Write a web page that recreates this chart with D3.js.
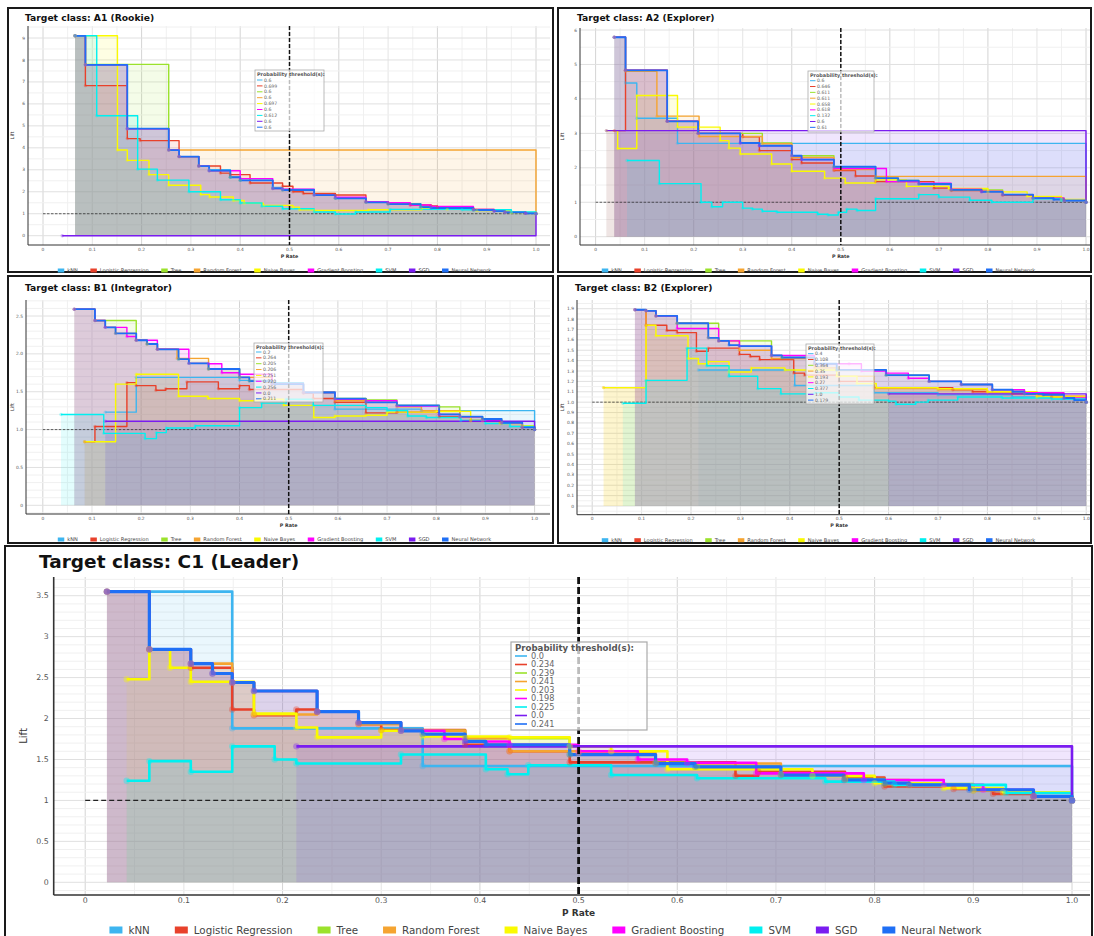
<!DOCTYPE html>
<html>
<head>
<meta charset="utf-8">
<script src="https://cdn.jsdelivr.net/npm/d3@7"></script>
<style>
  body { margin: 0; background: #fff; }
  svg { display: block; font-family: "DejaVu Sans", "Open Sans", sans-serif; }
</style>
</head>
<body>
<svg id="chart" width="1094" height="936"></svg>
<script>
// ---------- shared labels ----------
const modelNames = ["kNN", "Logistic Regression", "Tree", "Random Forest", "Naive Bayes",
  "Gradient Boosting", "SVM", "SGD", "Neural Network"];
const xTickValues = [0, 0.1, 0.2, 0.3, 0.4, 0.5, 0.6, 0.7, 0.8, 0.9, 1.0];
const xTickLabels = ["0", "0.1", "0.2", "0.3", "0.4", "0.5", "0.6", "0.7", "0.8", "0.9", "1.0"];
const xAxisTitle = "P Rate";
const yAxisTitle = "Lift";
const thresholdTitle = "Probability threshold(s):";

// ---------- A1 (Rookie) ----------
const a1Title = "Target class: A1 (Rookie)";
const a1YTicks = [0, 1, 2, 3, 4, 5, 6, 7, 8, 9];
const a1YTickLabels = ["0", "1", "2", "3", "4", "5", "6", "7", "8", "9"];
const a1Thresholds = ["0.6", "0.699", "0.6", "0.6", "0.697", "0.6", "0.612", "0.6", "0.6"];
// [P rate, lift] step points, one list per model (same order as modelNames)
const a1Curves = [
  [[0.065,9.1],[0.086,7.78],[0.171,4.87],[0.255,3.9],[0.276,3.6],[0.316,3.17],[0.337,3.0],[0.38,2.66],[0.40,2.52],[0.466,2.2],[0.486,2.1],[0.55,1.88],[0.593,1.72],[0.655,1.55],[0.70,1.46],[0.766,1.32],[0.787,1.28],[0.873,1.17],[0.915,1.12],[0.937,1.07],[0.979,1.02],[1.0,1.0]],
  [[0.065,9.1],[0.086,6.83],[0.171,4.42],[0.197,4.33],[0.276,3.6],[0.316,3.17],[0.36,2.85],[0.38,2.78],[0.42,2.4],[0.486,2.25],[0.507,2.0],[0.528,1.92],[0.593,1.85],[0.655,1.55],[0.70,1.47],[0.745,1.4],[0.787,1.36],[0.80,1.3],[0.873,1.2],[0.915,1.12],[0.937,1.06],[0.979,1.02],[1.0,1.0]],
  [[0.065,9.1],[0.086,7.8],[0.255,3.9],[0.276,3.6],[0.316,3.17],[0.337,2.96],[0.38,2.66],[0.40,2.52],[0.466,2.15],[0.486,2.08],[0.55,1.85],[0.593,1.70],[0.655,1.52],[0.70,1.44],[0.766,1.30],[0.873,1.17],[0.937,1.06],[1.0,1.0]],
  [[0.065,9.1],[0.086,7.78],[0.171,4.87],[0.255,3.9],[1.0,1.0]],
  [[0.065,9.1],[0.151,3.9],[0.171,3.43],[0.215,2.78],[0.255,2.3],[0.32,1.87],[0.338,1.76],[0.386,1.6],[0.408,1.48],[0.447,1.38],[0.507,1.3],[0.52,1.18],[0.55,1.15],[0.66,1.18],[0.768,1.22],[0.82,1.2],[0.88,1.14],[0.95,1.05],[1.0,1.0]],
  [[0.065,9.1],[0.086,7.78],[0.171,4.87],[0.255,3.9],[0.276,3.6],[0.316,3.17],[0.337,2.96],[0.40,2.6],[0.466,2.15],[0.486,2.12],[0.55,1.85],[0.593,1.75],[0.655,1.55],[0.70,1.5],[0.745,1.4],[0.787,1.33],[0.873,1.2],[0.915,1.12],[0.937,1.06],[0.979,1.02],[1.0,1.0]],
  [[0.065,9.1],[0.109,5.46],[0.192,3.03],[0.232,2.53],[0.296,2.0],[0.36,1.64],[0.40,1.49],[0.444,1.34],[0.486,1.23],[0.55,1.08],[0.593,0.99],[0.634,1.08],[0.704,1.2],[0.85,1.18],[0.95,1.08],[1.0,1.0]],
  [[0.039,0],[1.0,1.0]],
  [[0.065,9.1],[0.086,7.78],[0.171,4.87],[0.255,3.9],[0.276,3.6],[0.316,3.17],[0.337,2.96],[0.38,2.66],[0.40,2.52],[0.466,2.15],[0.486,2.08],[0.55,1.85],[0.593,1.70],[0.655,1.52],[0.70,1.44],[0.766,1.30],[0.787,1.26],[0.873,1.17],[0.915,1.12],[0.937,1.06],[0.979,1.02],[1.0,1.0]]
];

// ---------- A2 (Explorer) ----------
const a2Title = "Target class: A2 (Explorer)";
const a2YTicks = [0, 1, 2, 3, 4, 5, 6];
const a2YTickLabels = ["0", "1", "2", "3", "4", "5", "6"];
const a2Thresholds = ["0.6", "0.646", "0.611", "0.611", "0.658", "0.618", "0.132", "0.6", "0.61"];
const a2Curves = [
  [[0.038,5.79],[0.061,4.46],[0.084,3.44],[0.167,2.71],[1.0,1.0]],
  [[0.038,3.08],[0.061,4.83],[0.146,3.35],[0.209,3.0],[0.30,2.9],[0.334,2.5],[0.40,2.24],[0.42,2.14],[0.486,1.92],[0.53,1.76],[0.571,1.6],[0.69,1.41],[0.725,1.34],[0.787,1.32],[0.83,1.2],[0.892,1.12],[0.955,1.05],[1.0,1.0]],
  [[0.038,5.79],[0.061,4.83],[0.146,3.35],[0.209,3.0],[0.34,2.72],[0.40,2.35],[0.486,2.03],[0.571,1.70],[0.617,1.63],[0.659,1.53],[0.725,1.36],[0.83,1.22],[0.892,1.12],[0.955,1.05],[1.0,1.0]],
  [[0.038,5.79],[0.061,4.8],[0.125,3.5],[0.211,2.91],[0.34,2.7],[0.40,2.3],[0.486,1.95],[0.571,1.75],[1.0,1.0]],
  [[0.022,3.08],[0.045,2.56],[0.084,4.1],[0.167,3.18],[0.254,2.79],[0.272,2.57],[0.295,2.4],[0.359,2.11],[0.40,1.9],[0.467,1.70],[0.509,1.56],[0.571,1.65],[0.634,1.46],[0.72,1.4],[0.8,1.3],[0.88,1.17],[0.95,1.08],[1.0,1.0]],
  [[0.038,5.79],[0.061,4.83],[0.146,3.35],[0.209,3.0],[0.295,2.72],[0.334,2.64],[0.40,2.35],[0.42,2.24],[0.486,1.98],[0.593,1.6],[0.659,1.55],[0.725,1.38],[0.787,1.31],[0.83,1.22],[0.892,1.12],[0.955,1.05],[1.0,1.0]],
  [[0.064,2.21],[0.13,1.54],[0.215,1.0],[0.237,0.87],[0.259,1.0],[0.30,0.83],[0.32,0.8],[0.34,0.74],[0.37,0.71],[0.453,0.65],[0.474,0.63],[0.495,0.71],[0.512,0.8],[0.533,0.76],[0.571,1.10],[0.659,1.22],[0.70,1.15],[0.763,1.06],[0.808,1.0],[0.892,1.1],[0.95,1.05],[1.0,1.0]],
  [[0.022,3.08],[1.0,1.0]],
  [[0.038,5.79],[0.061,4.83],[0.146,3.35],[0.209,3.0],[0.295,2.72],[0.334,2.64],[0.40,2.35],[0.42,2.24],[0.486,2.03],[0.571,1.70],[0.617,1.63],[0.659,1.53],[0.725,1.36],[0.787,1.30],[0.83,1.22],[0.892,1.12],[0.934,1.08],[0.955,1.05],[1.0,1.0]]
];

// ---------- B1 (Integrator) ----------
const b1Title = "Target class: B1 (Integrator)";
const b1YTicks = [0, 0.5, 1.0, 1.5, 2.0, 2.5];
const b1YTickLabels = ["0", "0.5", "1.0", "1.5", "2.0", "2.5"];
const b1Thresholds = ["0.2", "0.264", "0.205", "0.206", "0.251", "0.220", "0.256", "0.0", "0.211"];
const b1Curves = [
  [[0.127,1.23],[0.19,1.69],[0.40,1.65],[0.466,1.62],[0.53,1.5],[0.594,1.27],[0.72,1.27],[0.77,1.25],[1.0,1.0]],
  [[0.085,0.84],[0.106,1.04],[0.171,1.62],[0.19,1.58],[0.23,1.52],[0.25,1.54],[0.293,1.63],[0.357,1.54],[0.40,1.58],[0.42,1.53],[0.53,1.48],[0.55,1.41],[0.594,1.36],[0.657,1.22],[0.72,1.23],[0.806,1.17],[0.87,1.12],[0.93,1.09],[0.975,1.03],[1.0,1.0]],
  [[0.064,2.59],[0.106,2.44],[0.19,2.18],[0.212,2.13],[0.233,2.06],[0.276,1.93],[0.297,1.875],[0.337,1.8],[0.40,1.69],[0.42,1.64],[0.466,1.6],[0.53,1.49],[0.594,1.41],[0.657,1.39],[0.72,1.32],[0.806,1.3],[0.848,1.17],[0.894,1.14],[0.933,1.09],[0.975,1.03],[1.0,1.0]],
  [[0.064,2.59],[0.106,2.44],[0.127,2.35],[0.148,2.27],[0.19,2.18],[0.212,2.13],[0.233,2.06],[0.273,1.94],[0.337,1.8],[0.40,1.69],[0.466,1.6],[0.53,1.49],[0.594,1.38],[0.657,1.36],[0.72,1.3],[0.77,1.25],[0.848,1.17],[0.894,1.12],[0.933,1.09],[0.975,1.05],[1.0,1.0]],
  [[0.085,0.84],[0.148,1.6],[0.19,1.73],[0.276,1.44],[0.336,1.41],[0.40,1.38],[0.44,1.4],[0.49,1.32],[0.551,1.16],[0.594,1.18],[0.657,1.19],[0.70,1.23],[0.80,1.24],[0.87,1.12],[0.93,1.08],[0.975,1.05],[1.0,1.0]],
  [[0.064,2.59],[0.106,2.44],[0.127,2.35],[0.171,2.23],[0.19,2.18],[0.233,2.06],[0.297,1.875],[0.337,1.87],[0.364,1.75],[0.40,1.73],[0.466,1.6],[0.53,1.49],[0.594,1.4],[0.657,1.38],[0.72,1.31],[0.806,1.2],[0.848,1.17],[0.894,1.12],[0.933,1.09],[0.975,1.03],[1.0,1.0]],
  [[0.037,1.2],[0.124,0.95],[0.208,0.88],[0.231,0.96],[0.251,1.02],[0.31,1.05],[0.40,1.29],[0.445,1.35],[0.495,1.4],[0.55,1.32],[0.657,1.29],[0.70,1.25],[0.742,1.18],[0.78,1.16],[0.85,1.12],[0.9,1.08],[0.95,1.04],[1.0,1.0]],
  [[0.127,1.11],[1.0,1.0]],
  [[0.064,2.59],[0.106,2.44],[0.127,2.35],[0.148,2.27],[0.19,2.18],[0.212,2.13],[0.233,2.06],[0.276,1.93],[0.297,1.875],[0.337,1.8],[0.40,1.69],[0.42,1.64],[0.466,1.6],[0.53,1.49],[0.594,1.41],[0.657,1.36],[0.72,1.32],[0.806,1.2],[0.848,1.17],[0.894,1.14],[0.933,1.09],[0.975,1.03],[1.0,1.0]]
];

// ---------- B2 (Explorer) ----------
const b2Title = "Target class: B2 (Explorer)";
const b2YTicks = [0, 0.1, 0.2, 0.3, 0.4, 0.5, 0.6, 0.7, 0.8, 0.9, 1.0, 1.1, 1.2, 1.3, 1.4, 1.5, 1.6, 1.7, 1.8, 1.9];
const b2YTickLabels = ["0", "0.1", "0.2", "0.3", "0.4", "0.5", "0.6", "0.7", "0.8", "0.9", "1.0", "1.1", "1.2", "1.3", "1.4", "1.5", "1.6", "1.7", "1.8", "1.9"];
const b2Thresholds = ["0.4", "0.108", "0.364", "0.35", "0.193", "0.27", "0.377", "1.0", "0.179"];
const b2Curves = [
  [[0.215,1.31],[0.41,1.16],[0.57,1.09],[0.7,1.07],[0.85,1.05],[0.95,1.03],[1.0,1.0]],
  [[0.0865,1.89],[0.109,1.74],[0.151,1.69],[0.172,1.67],[0.211,1.49],[0.235,1.52],[0.298,1.46],[0.32,1.44],[0.339,1.41],[0.408,1.28],[0.43,1.26],[0.5,1.2],[0.57,1.14],[0.73,1.12],[0.77,1.1],[0.85,1.08],[0.93,1.05],[1.0,1.0]],
  [[0.0865,1.89],[0.109,1.88],[0.129,1.83],[0.172,1.76],[0.256,1.59],[0.363,1.45],[0.384,1.43],[0.45,1.37],[0.495,1.31],[0.595,1.26],[0.682,1.2],[0.747,1.17],[0.81,1.12],[0.875,1.08],[0.955,1.04],[1.0,1.0]],
  [[0.023,1.14],[0.109,1.88],[0.129,1.83],[0.172,1.76],[0.235,1.62],[0.256,1.59],[0.298,1.5],[0.363,1.42],[0.45,1.33],[0.5,1.25],[0.57,1.13],[0.7,1.12],[0.8,1.1],[0.9,1.06],[1.0,1.0]],
  [[0.023,1.14],[0.109,1.74],[0.129,1.64],[0.194,1.42],[0.215,1.37],[0.235,1.39],[0.277,1.29],[0.322,1.33],[0.39,1.31],[0.495,1.25],[0.536,1.18],[0.575,1.14],[0.7,1.13],[0.8,1.1],[0.9,1.05],[1.0,1.0]],
  [[0.0865,1.89],[0.109,1.88],[0.129,1.83],[0.172,1.71],[0.256,1.59],[0.298,1.54],[0.363,1.45],[0.45,1.37],[0.52,1.37],[0.545,1.3],[0.595,1.28],[0.64,1.23],[0.682,1.2],[0.747,1.17],[0.81,1.12],[0.875,1.09],[0.955,1.04],[1.0,1.0]],
  [[0.062,0.99],[0.109,1.21],[0.192,1.52],[0.232,1.35],[0.277,1.25],[0.335,1.13],[0.382,1.08],[0.45,1.09],[0.5,1.05],[0.54,1.02],[0.6,1.01],[0.615,0.98],[0.655,1.0],[0.68,1.02],[0.74,1.05],[0.83,1.04],[0.93,1.03],[1.0,1.0]],
  [[0.6,1.08],[1.0,1.0]],
  [[0.0865,1.89],[0.109,1.88],[0.129,1.83],[0.172,1.76],[0.235,1.62],[0.256,1.59],[0.277,1.55],[0.298,1.54],[0.363,1.45],[0.384,1.43],[0.45,1.37],[0.495,1.31],[0.595,1.26],[0.682,1.2],[0.747,1.17],[0.81,1.12],[0.851,1.1],[0.875,1.08],[0.913,1.07],[0.955,1.04],[0.976,1.02],[1.0,1.0]]
];

// ---------- C1 (Leader) ----------
const c1Title = "Target class: C1 (Leader)";
const c1YTicks = [0, 0.5, 1, 1.5, 2, 2.5, 3, 3.5];
const c1YTickLabels = ["0", "0.5", "1", "1.5", "2", "2.5", "3", "3.5"];
const c1Thresholds = ["0.0", "0.234", "0.239", "0.241", "0.203", "0.198", "0.225", "0.0", "0.241"];
const c1Curves = [
  [[0.022,3.55],[0.149,1.88],[0.342,1.42],[1.0,1.0]],
  [[0.022,3.55],[0.065,2.845],[0.107,2.62],[0.149,2.11],[0.171,2.04],[0.214,2.11],[0.235,2.084],[0.277,1.93],[0.30,1.86],[0.385,1.68],[0.43,1.6],[0.491,1.465],[0.659,1.3],[0.682,1.35],[0.77,1.28],[0.81,1.17],[0.88,1.14],[0.92,1.08],[0.961,1.05],[1.0,1.0]],
  [[0.022,3.55],[0.065,2.845],[0.107,2.67],[0.129,2.55],[0.149,2.44],[0.171,2.336],[0.235,2.084],[0.277,1.95],[0.32,1.85],[0.385,1.76],[0.491,1.56],[0.578,1.46],[0.62,1.41],[0.705,1.31],[0.77,1.26],[0.81,1.2],[0.9,1.12],[0.961,1.05],[1.0,1.0]],
  [[0.022,3.55],[0.065,2.845],[0.107,2.67],[0.149,2.44],[0.171,2.05],[0.235,2.084],[0.277,1.93],[0.32,1.85],[0.385,1.76],[0.43,1.6],[0.5,1.58],[0.578,1.45],[0.705,1.32],[0.77,1.25],[0.835,1.18],[0.9,1.12],[0.961,1.05],[1.0,1.0]],
  [[0.042,2.48],[0.065,2.845],[0.086,2.62],[0.107,2.45],[0.171,2.06],[0.214,1.89],[0.235,1.77],[0.30,1.85],[0.342,1.78],[0.43,1.77],[0.491,1.66],[0.533,1.6],[0.59,1.38],[0.737,1.3],[0.8,1.21],[0.87,1.15],[0.93,1.1],[1.0,1.0]],
  [[0.022,3.55],[0.065,2.845],[0.107,2.67],[0.129,2.55],[0.149,2.44],[0.171,2.336],[0.235,2.084],[0.277,1.95],[0.32,1.85],[0.364,1.75],[0.385,1.72],[0.43,1.68],[0.5,1.6],[0.56,1.5],[0.61,1.46],[0.68,1.33],[0.789,1.25],[0.87,1.19],[0.91,1.13],[0.961,1.05],[1.0,1.0]],
  [[0.042,1.24],[0.065,1.48],[0.107,1.35],[0.149,1.66],[0.192,1.5],[0.214,1.45],[0.32,1.56],[0.406,1.38],[0.428,1.32],[0.449,1.43],[0.533,1.31],[0.62,1.27],[0.75,1.23],[0.82,1.19],[0.933,1.09],[1.0,1.0]],
  [[0.214,1.66],[1.0,1.0]],
  [[0.022,3.55],[0.065,2.845],[0.107,2.67],[0.129,2.55],[0.149,2.44],[0.171,2.336],[0.235,2.084],[0.277,1.95],[0.32,1.85],[0.342,1.81],[0.385,1.72],[0.406,1.68],[0.491,1.56],[0.578,1.45],[0.618,1.41],[0.705,1.31],[0.769,1.25],[0.81,1.21],[0.835,1.19],[0.896,1.13],[0.961,1.05],[1.0,1.0]]
];

// ---------- styling ----------
const palette = ["#3db5f0", "#e8412b", "#9be22c", "#f5a431", "#fafa00", "#ff00ff", "#00f0f0", "#7a1cf0", "#1f6ff5"];
const fillOpacity = 0.11;

// panel geometry (pixels)
const layouts = {
  a1: { box: [8, 8, 553, 272], plot: { l: 28, t: 26, r: 550, b: 245 }, xRange: [43, 536], yRange: [235.7, 38],
        yMinor: 0.5, title: [25, 17.5], lbox: { x: 255, y: 70, w: 69, h: 61 }, rowY0: 80, rowGap: 5.9 },
  a2: { box: [558, 8, 1091, 272], plot: { l: 580, t: 28, r: 1090, b: 245 }, xRange: [595.6, 1086], yRange: [236.7, 30],
        yMinor: 0.5, title: [577, 17.5], lbox: { x: 808, y: 71, w: 66, h: 61 }, rowY0: 80.7, rowGap: 5.83 },
  b1: { box: [8, 276, 553, 543], plot: { l: 26, t: 300, r: 550, b: 514 }, xRange: [42.8, 534.6], yRange: [505.3, 316],
        yMinor: 0.1, title: [25, 287.7], lbox: { x: 254, y: 343, w: 69, h: 59 }, rowY0: 352, rowGap: 5.85 },
  b2: { box: [558, 276, 1091, 543], plot: { l: 577, t: 300, r: 1090, b: 514.7 }, xRange: [592.2, 1086.2], yRange: [506, 308.7],
        yMinor: 0.05, title: [575, 287.7], lbox: { x: 806, y: 344, w: 68, h: 60 }, rowY0: 353.7, rowGap: 5.8 },
  c1: { box: [5, 546, 1092, 944], plot: { l: 53.7, t: 577, r: 1090, b: 895 }, xRange: [85.2, 1072], yRange: [882.3, 595.7],
        yMinor: 0.1, title: [39, 562], lbox: { x: 511, y: 642, w: 136, h: 88 }, rowY0: 656, rowGap: 8.5, big: true }
};

const panels = [
  { title: a1Title, curves: a1Curves, yTicks: a1YTicks, yLabels: a1YTickLabels, thresholds: a1Thresholds, layout: layouts.a1 },
  { title: a2Title, curves: a2Curves, yTicks: a2YTicks, yLabels: a2YTickLabels, thresholds: a2Thresholds, layout: layouts.a2 },
  { title: b1Title, curves: b1Curves, yTicks: b1YTicks, yLabels: b1YTickLabels, thresholds: b1Thresholds, layout: layouts.b1 },
  { title: b2Title, curves: b2Curves, yTicks: b2YTicks, yLabels: b2YTickLabels, thresholds: b2Thresholds, layout: layouts.b2 },
  { title: c1Title, curves: c1Curves, yTicks: c1YTicks, yLabels: c1YTickLabels, thresholds: c1Thresholds, layout: layouts.c1 }
];

const svg = d3.select("#chart");

function drawPanel(panel) {
  const L = panel.layout;
  const big = !!L.big;
  const S = big ? {
    title: 18.5, tick: 7.8, axisTitle: 9, legend: 10.3, thrTitle: 8.6, thr: 8.2, line: 2.6, nnLine: 3.2, dot: 3.2,
    swW: 13, swH: 7, swGap: 6, pad: 25, vDash: 2.8, hDash: 1.1, axis: 1.6, legY: 35
  } : {
    title: 9.2, tick: 4.4, axisTitle: 4.8, legend: 5.1, thrTitle: 4.9, thr: 4.6, line: 1.4, nnLine: 1.8, dot: 1.7,
    swW: 6.5, swH: 4, swGap: 3, pad: 12.5, vDash: 1.5, hDash: 0.7, axis: 1, legY: 25.5
  };
  const g = svg.append("g");
  const p = L.plot;
  const yTop = panel.yTicks[panel.yTicks.length - 1];
  const x = d3.scaleLinear().domain([0, 1]).range(L.xRange);
  const y = d3.scaleLinear().domain([0, yTop]).range(L.yRange);

  // panel frame
  g.append("rect")
    .attr("x", L.box[0]).attr("y", L.box[1])
    .attr("width", L.box[2] - L.box[0]).attr("height", L.box[3] - L.box[1])
    .attr("fill", "#fff").attr("stroke", "#1a1a1a").attr("stroke-width", 2);

  // grid: vertical every 0.05, horizontal at minor steps
  const grid = g.append("g");
  const kx0 = Math.ceil(x.invert(p.l) * 20), kx1 = Math.floor(x.invert(p.r) * 20);
  for (let k = kx0; k <= kx1; k++) {
    const col = k % 4 === 0 ? "#d4d4d4" : (k % 2 === 0 ? "#e4e4e4" : "#f0f0f0");
    grid.append("line").attr("x1", x(k / 20)).attr("x2", x(k / 20)).attr("y1", p.t).attr("y2", p.b)
      .attr("stroke", col).attr("stroke-width", 1);
  }
  const n = Math.round(1 / L.yMinor);
  const ky0 = Math.ceil(y.invert(p.b) * n), ky1 = Math.floor(y.invert(p.t) * n);
  for (let k = ky0; k <= ky1; k++) {
    const v = k / n;
    const isMajor = panel.yTicks.some(t => Math.abs(t - v) < 1e-9);
    grid.append("line").attr("x1", p.l).attr("x2", p.r).attr("y1", y(v)).attr("y2", y(v))
      .attr("stroke", isMajor ? "#e0e0e0" : "#f0f0f0").attr("stroke-width", 1);
  }

  // filled areas under every curve
  const area = d3.area().curve(d3.curveStepAfter).x(d => x(d[0])).y0(y(0)).y1(d => y(d[1]));
  const line = d3.line().curve(d3.curveStepAfter).x(d => x(d[0])).y(d => y(d[1]));
  g.append("g").selectAll("path").data(panel.curves).join("path")
    .attr("d", d => area(d)).attr("fill", (d, i) => palette[i]).attr("fill-opacity", fillOpacity);

  // baseline lift = 1
  g.append("line").attr("x1", x(0)).attr("x2", x(1)).attr("y1", y(1)).attr("y2", y(1))
    .attr("stroke", "#222").attr("stroke-width", S.hDash).attr("stroke-dasharray", big ? "5,3" : "2.5,1.5");

  // step lines
  g.append("g").selectAll("path").data(panel.curves).join("path")
    .attr("d", d => line(d)).attr("fill", "none")
    .attr("stroke", (d, i) => palette[i])
    .attr("stroke-width", (d, i) => i === 8 ? S.nnLine : S.line)
    .attr("stroke-linejoin", "round");

  // step points
  panel.curves.forEach((c, i) => {
    g.append("g").selectAll("circle").data(c).join("circle")
      .attr("cx", d => x(d[0])).attr("cy", d => y(d[1])).attr("r", S.dot)
      .attr("fill", palette[i]).attr("fill-opacity", 0.35);
  });

  // axis lines
  g.append("line").attr("x1", p.l).attr("x2", p.l).attr("y1", p.t).attr("y2", p.b)
    .attr("stroke", "#333").attr("stroke-width", S.axis);
  g.append("line").attr("x1", p.l).attr("x2", p.r).attr("y1", p.b).attr("y2", p.b)
    .attr("stroke", "#333").attr("stroke-width", S.axis);

  // tick labels
  g.append("g").selectAll("text").data(xTickValues).join("text")
    .attr("x", d => x(d)).attr("y", p.b + (big ? 5.5 : 4)).attr("dy", "0.35em")
    .attr("text-anchor", "middle").attr("font-size", S.tick).attr("fill", "#555")
    .text((d, i) => xTickLabels[i]);
  g.append("g").selectAll("text").data(panel.yTicks).join("text")
    .attr("x", p.l - (big ? 5 : 3)).attr("y", d => y(d)).attr("dy", "0.35em")
    .attr("text-anchor", "end").attr("font-size", S.tick).attr("fill", "#555")
    .text((d, i) => panel.yLabels[i]);

  // axis titles
  g.append("text").attr("x", x(0.5)).attr("y", p.b + (big ? 18 : 11)).attr("dy", "0.35em")
    .attr("text-anchor", "middle").attr("font-size", S.axisTitle).attr("font-weight", 700).attr("fill", "#333")
    .text(xAxisTitle);
  g.append("text")
    .attr("transform", `translate(${big ? 23.5 : L.box[0] + 4},${(p.t + p.b) / 2}) rotate(-90)`)
    .attr("dy", "0.35em").attr("text-anchor", "middle").attr("font-size", big ? 10 : 5)
    .attr("fill", "#333").text(yAxisTitle);

  // vertical marker at P rate 0.5
  g.append("line").attr("x1", x(0.5)).attr("x2", x(0.5)).attr("y1", p.t).attr("y2", p.b)
    .attr("stroke", "#111").attr("stroke-width", S.vDash).attr("stroke-dasharray", big ? "7,3" : "4,2");

  // threshold legend box
  const lb = L.lbox;
  const lg = g.append("g");
  lg.append("rect").attr("x", lb.x).attr("y", lb.y).attr("width", lb.w).attr("height", lb.h)
    .attr("fill", "#fff").attr("fill-opacity", 0.72).attr("stroke", "#aaa").attr("stroke-width", big ? 1.2 : 0.8);
  lg.append("text").attr("x", lb.x + (big ? 4 : 2)).attr("y", lb.y + (big ? 5.5 : 4.3)).attr("dy", "0.35em")
    .attr("font-size", S.thrTitle).attr("font-weight", 600).attr("fill", "#555").text(thresholdTitle);
  panel.thresholds.forEach((t, i) => {
    const yy = L.rowY0 + i * L.rowGap;
    lg.append("line").attr("x1", lb.x + (big ? 4 : 2)).attr("x2", lb.x + (big ? 16 : 7.5))
      .attr("y1", yy).attr("y2", yy).attr("stroke", palette[i]).attr("stroke-width", big ? 1.6 : 1);
    lg.append("text").attr("x", lb.x + (big ? 20 : 9)).attr("y", yy).attr("dy", "0.35em")
      .attr("font-size", S.thr).attr("fill", "#666").text(t);
  });

  // model legend along the bottom
  const legY = p.b + S.legY;
  const bl = g.append("g");
  let cx = 0;
  modelNames.forEach((name, i) => {
    const item = bl.append("g").attr("transform", `translate(${cx},0)`);
    item.append("rect").attr("x", 0).attr("y", legY - S.swH / 2).attr("width", S.swW).attr("height", S.swH)
      .attr("fill", palette[i]);
    const t = item.append("text").attr("x", S.swW + S.swGap).attr("y", legY).attr("dy", "0.35em")
      .attr("font-size", S.legend).attr("fill", "#444").text(name);
    const w = t.node().getComputedTextLength();
    cx += S.swW + S.swGap + w + (i < modelNames.length - 1 ? S.pad : 0);
  });
  const center = (L.box[0] + L.box[2]) / 2 - (big ? 3 : 6);
  bl.attr("transform", `translate(${center - cx / 2},0)`);

  // title
  g.append("text").attr("x", L.title[0]).attr("y", L.title[1]).attr("dy", "0.35em")
    .attr("font-size", S.title).attr("font-weight", 700).attr("fill", "#111").text(panel.title);
}

panels.forEach(drawPanel);
</script>
</body>
</html>
